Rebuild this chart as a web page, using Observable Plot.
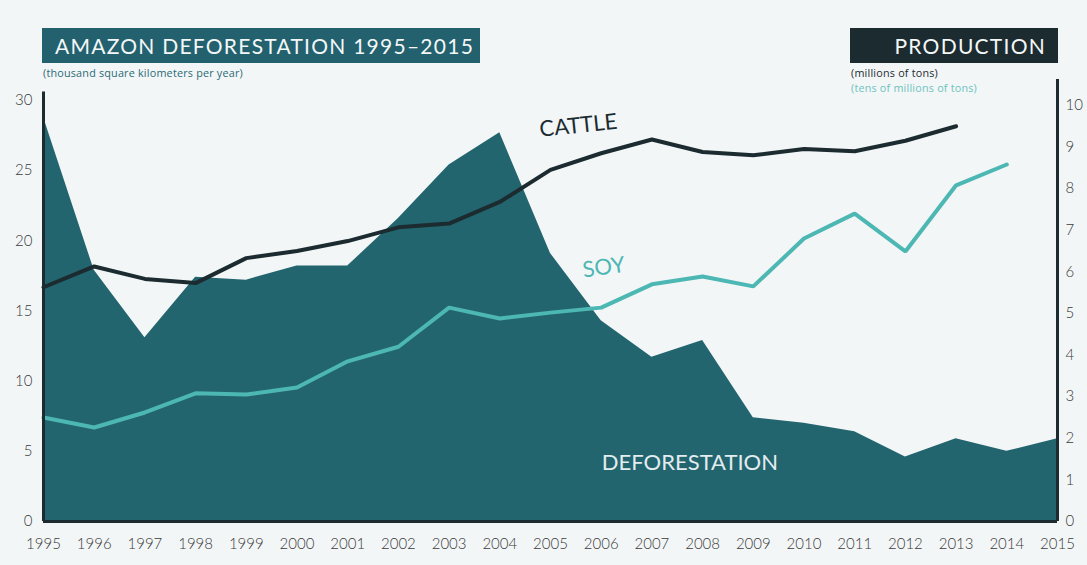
<!DOCTYPE html>
<html>
<head>
<meta charset="utf-8">
<script src="https://cdn.jsdelivr.net/npm/d3@7"></script>
<script src="https://cdn.jsdelivr.net/npm/@observablehq/plot@0.6"></script>
<style>
  html, body { margin: 0; padding: 0; background: #f3f6f7; }
  #wrap { position: relative; width: 1087px; height: 565px; background: #f3f6f7; font-family: "Lato", "Open Sans", sans-serif; overflow: hidden; }
  #chart { position: absolute; left: 0; top: 0; }
  .box { position: absolute; color: #f4f7f8; font-size: 21px; font-weight: 400; letter-spacing: 1.25px; line-height: 35px; height: 35px; white-space: nowrap; box-sizing: border-box; }
  #title { left: 42px; top: 28px; width: 438px; background: #22616d; padding-left: 13px; }
  #prod { left: 850px; top: 28px; width: 208px; background: #1b2b30; text-align: right; padding-right: 12px; }
  .sub { position: absolute; font-family: "Open Sans", sans-serif; font-size: 10.8px; letter-spacing: 0.2px; white-space: nowrap; }
  #sub1 { left: 43px; top: 65px; color: #2a6b76; }
  #sub2 { left: 851px; top: 65px; color: #1b2b30; }
  #sub3 { left: 851px; top: 80px; color: #6cc3c0; }
</style>
</head>
<body>
<div id="wrap">
  <div id="chart"></div>
  <div class="box" id="title">AMAZON DEFORESTATION 1995–2015</div>
  <div class="sub" id="sub1">(thousand square kilometers per year)</div>
  <div class="box" id="prod">PRODUCTION</div>
  <div class="sub" id="sub2">(millions of tons)</div>
  <div class="sub" id="sub3">(tens of millions of tons)</div>
</div>
<script>
// ---- data ----
const years = [1995, 1996, 1997, 1998, 1999, 2000, 2001, 2002, 2003, 2004, 2005,
               2006, 2007, 2008, 2009, 2010, 2011, 2012, 2013, 2014, 2015];
// deforestation, thousand km² per year (left axis)
const deforestation = [28.8, 17.9, 13.1, 17.4, 17.2, 18.2, 18.2, 21.6, 25.4, 27.7, 19.1,
                       14.3, 11.7, 12.9, 7.4, 7.0, 6.4, 4.6, 5.9, 5.0, 5.9];
// cattle production, millions of tons (right axis), 1995–2013
const cattleYears = [1995, 1996, 1997, 1998, 1999, 2000, 2001, 2002, 2003, 2004,
                     2005, 2006, 2007, 2008, 2009, 2010, 2011, 2012, 2013];
const cattle = [5.63, 6.13, 5.83, 5.73, 6.33, 6.50, 6.74, 7.07, 7.16, 7.68,
                8.45, 8.85, 9.18, 8.88, 8.80, 8.95, 8.90, 9.15, 9.50];
// soy production, tens of millions of tons (right axis), 1995–2014
const soyYears = [1995, 1996, 1997, 1998, 1999, 2000, 2001, 2002, 2003, 2004,
                  2005, 2006, 2007, 2008, 2009, 2010, 2011, 2012, 2013, 2014];
const soy = [2.50, 2.26, 2.62, 3.08, 3.05, 3.22, 3.85, 4.20, 5.14, 4.88,
             5.02, 5.14, 5.70, 5.89, 5.65, 6.80, 7.40, 6.49, 8.08, 8.58];
const leftTicks = [0, 5, 10, 15, 20, 25, 30];
const rightTicks = [0, 1, 2, 3, 4, 5, 6, 7, 8, 9, 10];
// series labels: text, anchor year, anchor value (left-axis units), rotation
const labels = [
  {text: "CATTLE", year: 2005.55, value: 28.2, rotate: -6, color: "#1b2b30"},
  {text: "SOY", year: 2006.05, value: 18.1, rotate: -8, color: "#4cb7b3"},
  {text: "DEFORESTATION", year: 2007.75, value: 4.15, rotate: 0, color: "#e3ecee"}
];

// ---- build ----
const RATIO = 2.965; // right-axis unit in left-axis units
const defData = years.map((y, i) => ({year: y, value: deforestation[i]}));
const cattleData = cattleYears.map((y, i) => ({year: y, value: cattle[i]}));
const soyData = soyYears.map((y, i) => ({year: y, value: soy[i]}));

const dark = "#1b2b30";
const tickStyle = {tickSize: 0, label: null, fontSize: 15, fontWeight: 300, color: "#3a3a3a"};
const chart = Plot.plot({
  width: 1087,
  height: 565,
  marginLeft: 43,
  marginRight: 30,
  marginTop: 100,
  marginBottom: 44,
  style: {background: "transparent", fontFamily: "Lato, 'Open Sans', sans-serif"},
  x: {domain: [1995, 2015]},
  y: {domain: [0, 30]},
  marks: [
    Plot.areaY(defData, {x: "year", y: "value", fill: "#22656f"}),
    Plot.line(soyData, {x: "year", y: d => d.value * RATIO, stroke: "#4cb7b3", strokeWidth: 4, strokeLinejoin: "miter"}),
    Plot.line(cattleData, {x: "year", y: d => d.value * RATIO, stroke: dark, strokeWidth: 4, strokeLinejoin: "miter"}),
    Plot.ruleX([1995], {y1: 0, y2: 30.6, stroke: dark, strokeWidth: 3}),
    Plot.ruleX([2015], {y1: 0, y2: 31.5, stroke: dark, strokeWidth: 3}),
    Plot.ruleY([0], {stroke: dark, strokeWidth: 3}),
    Plot.axisY({anchor: "left", ticks: leftTicks, tickPadding: 11, ...tickStyle}),
    Plot.axisY({anchor: "right", ticks: rightTicks.map(v => v * RATIO), tickFormat: d => String(Math.round(d / RATIO)),
                tickPadding: 8, ...tickStyle}),
    Plot.axisX({ticks: years, tickFormat: d => String(d), tickPadding: 17, ...tickStyle, letterSpacing: 0.4}),
    Plot.text(labels, {x: "year", y: "value", text: "text", rotate: "rotate", fill: "color",
                       fontSize: 22, fontWeight: 400, letterSpacing: 1.5})
  ]
});
document.getElementById("chart").appendChild(chart);
</script>
</body>
</html>
